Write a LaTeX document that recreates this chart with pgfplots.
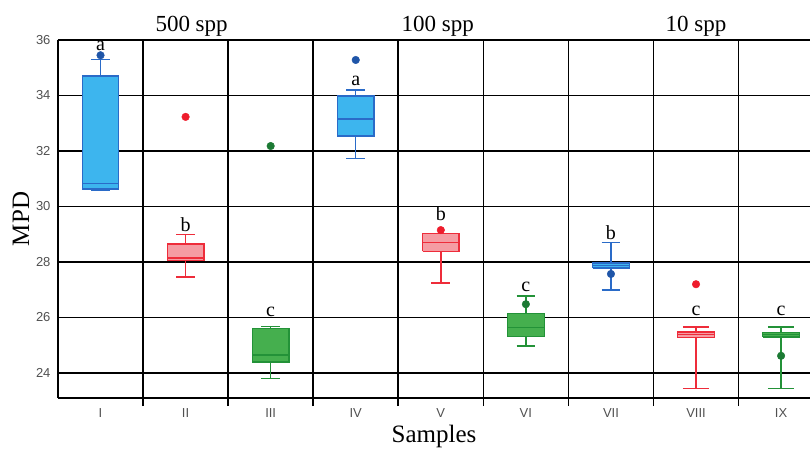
\documentclass[border=0pt]{standalone}
\usepackage{fontspec}
\setmainfont{Liberation Serif}
\newfontfamily\tickfont{Liberation Sans}
\usepackage{pgfplots}
\pgfplotsset{compat=1.18}
\definecolor{bfill}{HTML}{3DB5EE}
\definecolor{bedge}{HTML}{2A6BC8}
\definecolor{bdot}{HTML}{1F55A8}
\definecolor{rfill}{HTML}{F59CA3}
\definecolor{redge}{HTML}{EE2C3A}
\definecolor{rdot}{HTML}{EE1C2C}
\definecolor{gfill}{HTML}{45AF4E}
\definecolor{gedge}{HTML}{239238}
\definecolor{gdot}{HTML}{1C7A34}
\definecolor{tickgray}{HTML}{505050}
\pgfplotsset{
  whisk/.style={draw=#1, line width=1.4pt, unbounded coords=jump, mark=none},
  bbox/.style 2 args={draw=#1, fill=#2, line width=1.3pt, line join=miter, mark=none},
  med/.style={draw=#1, line width=1.3pt, mark=none},
  outl/.style={only marks, mark=*, mark size=3.8pt, draw=#1, fill=#1},
}
\begin{document}
\begin{tikzpicture}
\begin{axis}[
  name=ax,
  scale only axis,
  width=752pt, height=358pt,
  xmin=-0.5, xmax=8.34,
  ymin=23.1, ymax=36,
  separate axis lines,
  axis x line=box,
  axis y line=left,
  axis line style={-, line width=2.2pt, black},
  xtick={0,...,8},
  xticklabels={I,II,III,IV,V,VI,VII,VIII,IX},
  minor xtick={0.5,1.5,...,7.5},
  ytick={24,26,...,36},
  major tick length=0pt,
  minor tick length=8pt,
  tick align=outside,
  xtick pos=bottom,
  ytick pos=left,
  ymajorgrids, xminorgrids,
  major grid style={black, line width=1.6pt},
  minor grid style={black, line width=1.6pt},
  minor tick style={black, line width=1.6pt},
  /pgf/number format/assume math mode=true,
  tick label style={font=\tickfont\fontsize{13}{15}\selectfont, text=tickgray},
  xticklabel style={yshift=-7pt},
  yticklabel style={xshift=-4pt},
  xlabel={Samples}, ylabel={MPD},
  label style={font=\fontsize{25}{28}\selectfont},
  xlabel style={yshift=-1pt},
  ylabel style={yshift=0pt},
  clip=false,
]
% ---------- I ----------
\addplot[whisk=bedge] coordinates {(0,34.7) (0,35.3) (0,nan) (-0.11,35.3) (0.11,35.3) (0,nan) (0,30.63) (0,30.6) (0,nan) (-0.11,30.6) (0.11,30.6)};
\addplot[bbox={bedge}{bfill}] coordinates {(-0.215,30.63) (0.215,30.63) (0.215,34.7) (-0.215,34.7) (-0.215,30.63)};
\addplot[med=bedge] coordinates {(-0.215,30.82) (0.215,30.82)};
\addplot[outl=bdot] coordinates {(0,35.45)};
% ---------- II ----------
\addplot[whisk=redge] coordinates {(1,28.65) (1,29.0) (1,nan) (0.89,29.0) (1.11,29.0) (1,nan) (1,28.05) (1,27.46) (1,nan) (0.89,27.46) (1.11,27.46)};
\addplot[bbox={redge}{rfill}] coordinates {(0.785,28.05) (1.215,28.05) (1.215,28.65) (0.785,28.65) (0.785,28.05)};
\addplot[med=redge] coordinates {(0.785,28.14) (1.215,28.14)};
\addplot[outl=rdot] coordinates {(1,33.23)};
% ---------- III ----------
\addplot[whisk=gedge] coordinates {(2,25.6) (2,25.68) (2,nan) (1.89,25.68) (2.11,25.68) (2,nan) (2,24.4) (2,23.8) (2,nan) (1.89,23.8) (2.11,23.8)};
\addplot[bbox={gedge}{gfill}] coordinates {(1.785,24.4) (2.215,24.4) (2.215,25.6) (1.785,25.6) (1.785,24.4)};
\addplot[med=gedge] coordinates {(1.785,24.65) (2.215,24.65)};
\addplot[outl=gdot] coordinates {(2,32.18)};
% ---------- IV ----------
\addplot[whisk=bedge] coordinates {(3,33.98) (3,34.2) (3,nan) (2.89,34.2) (3.11,34.2) (3,nan) (3,32.54) (3,31.72) (3,nan) (2.89,31.72) (3.11,31.72)};
\addplot[bbox={bedge}{bfill}] coordinates {(2.785,32.54) (3.215,32.54) (3.215,33.98) (2.785,33.98) (2.785,32.54)};
\addplot[med=bedge] coordinates {(2.785,33.15) (3.215,33.15)};
\addplot[outl=bdot] coordinates {(3,35.28)};
% ---------- V ----------
\addplot[whisk=redge] coordinates {(4,28.38) (4,27.25) (4,nan) (3.89,27.25) (4.11,27.25)};
\addplot[bbox={redge}{rfill}] coordinates {(3.785,28.38) (4.215,28.38) (4.215,29.03) (3.785,29.03) (3.785,28.38)};
\addplot[med=redge] coordinates {(3.785,28.7) (4.215,28.7)};
\addplot[outl=rdot] coordinates {(4,29.15)};
% ---------- VI ----------
\addplot[whisk=gedge] coordinates {(5,26.15) (5,26.78) (5,nan) (4.89,26.78) (5.11,26.78) (5,nan) (5,25.31) (5,24.98) (5,nan) (4.89,24.98) (5.11,24.98)};
\addplot[bbox={gedge}{gfill}] coordinates {(4.785,25.31) (5.215,25.31) (5.215,26.15) (4.785,26.15) (4.785,25.31)};
\addplot[med=gedge] coordinates {(4.785,25.63) (5.215,25.63)};
\addplot[outl=gdot] coordinates {(5,26.48)};
% ---------- VII ----------
\addplot[whisk=bedge] coordinates {(6,27.97) (6,28.7) (6,nan) (5.89,28.7) (6.11,28.7) (6,nan) (6,27.78) (6,26.99) (6,nan) (5.89,26.99) (6.11,26.99)};
\addplot[bbox={bedge}{bfill}] coordinates {(5.785,27.78) (6.215,27.78) (6.215,27.97) (5.785,27.97) (5.785,27.78)};
\addplot[med=bedge] coordinates {(5.785,27.88) (6.215,27.88)};
\addplot[outl=bdot] coordinates {(6,27.57)};
% ---------- VIII ----------
\addplot[whisk=redge] coordinates {(7,25.48) (7,25.66) (7,nan) (6.845,25.66) (7.155,25.66) (7,nan) (7,25.27) (7,23.44) (7,nan) (6.845,23.44) (7.155,23.44)};
\addplot[bbox={redge}{rfill}] coordinates {(6.785,25.27) (7.215,25.27) (7.215,25.48) (6.785,25.48) (6.785,25.27)};
\addplot[med=redge] coordinates {(6.785,25.38) (7.215,25.38)};
\addplot[outl=rdot] coordinates {(7,27.2)};
% ---------- IX ----------
\addplot[whisk=gedge] coordinates {(8,25.47) (8,25.66) (8,nan) (7.845,25.66) (8.155,25.66) (8,nan) (8,25.3) (8,23.44) (8,nan) (7.845,23.44) (8.155,23.44)};
\addplot[bbox={gedge}{gfill}] coordinates {(7.785,25.3) (8.215,25.3) (8.215,25.47) (7.785,25.47) (7.785,25.3)};
\addplot[med=gedge] coordinates {(7.785,25.39) (8.215,25.39)};
\addplot[outl=gdot] coordinates {(8,24.62)};
% letters
\begin{scope}[every node/.style={font=\fontsize{20}{22}\selectfont, inner sep=0pt}]
\node at (axis cs:0,35.8) {a};
\node at (axis cs:1,29.33) {b};
\node at (axis cs:2,26.2) {c};
\node at (axis cs:3,34.52) {a};
\node at (axis cs:4,29.73) {b};
\node at (axis cs:5,27.1) {c};
\node at (axis cs:6,29.05) {b};
\node at (axis cs:7,26.23) {c};
\node at (axis cs:8,26.23) {c};
\end{scope}
\begin{scope}[every node/.style={font=\fontsize{23}{26}\selectfont, anchor=base}]
\node at ([xshift=6pt,yshift=8pt]axis cs:1,36) {500 spp};
\node at ([xshift=-3pt,yshift=8pt]axis cs:4,36) {100 spp};
\node at ([yshift=8pt]axis cs:7,36) {10 spp};
\end{scope}
\end{axis}
\pgfresetboundingbox
\path ([xshift=-58pt,yshift=-50pt]ax.south west) rectangle ([yshift=40pt]ax.north east);
\end{tikzpicture}
\end{document}
